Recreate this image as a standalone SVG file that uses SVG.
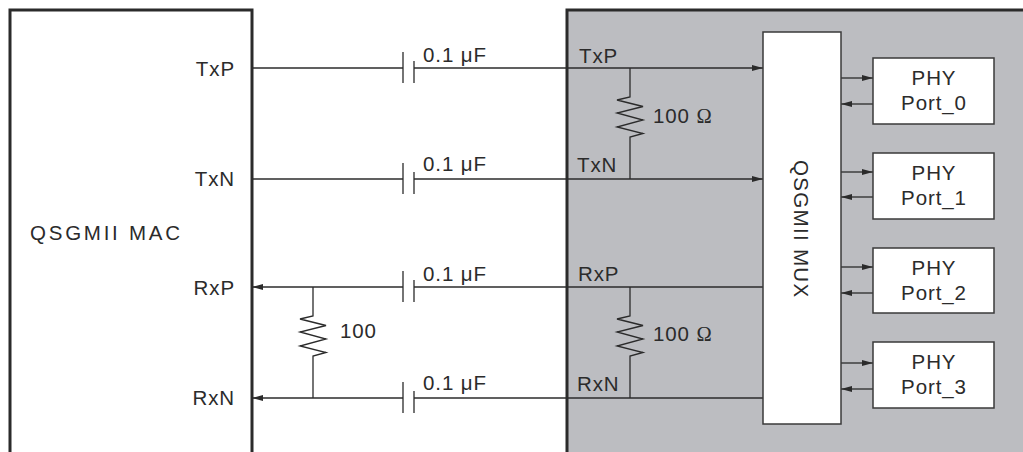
<svg xmlns="http://www.w3.org/2000/svg" width="1023" height="452" viewBox="0 0 1023 452">
<defs>
<marker id="ah" markerWidth="11" markerHeight="7" refX="11" refY="3.5" orient="auto" markerUnits="userSpaceOnUse"><path d="M0,0.5 L11,3.5 L0,6.5 z" fill="#2b2b2b"/></marker>
</defs>
<style>
.t{font-family:"Liberation Sans",Arial,sans-serif;font-size:20.5px;fill:#2b2b2b;letter-spacing:0.9px}
.c{text-anchor:middle}
.e{text-anchor:end}
.w{stroke:#2b2b2b;stroke-width:1.3;fill:none}
.blk{stroke:#2b2b2b;stroke-width:3}
.box{fill:#fff;stroke:#3a3a3a;stroke-width:1.5}
.om{font-family:"Liberation Serif","Times New Roman",serif}
</style>
<rect x="0" y="0" width="1023" height="452" fill="#fff"/>

<g id="phy-side">
<rect class="blk" x="567" y="10" width="480" height="470" fill="#bcbdc1"/>
</g>
<g id="qsgmii-mac">
<rect class="blk" x="10" y="10" width="242" height="470" fill="#fff"/>
<text class="t" x="30" y="240" textLength="151" lengthAdjust="spacing">QSGMII MAC</text>
<text class="t e" x="235" y="76">TxP</text>
<text class="t e" x="235" y="186">TxN</text>
<text class="t e" x="235" y="295">RxP</text>
<text class="t e" x="235" y="405">RxN</text>
</g>

<g id="connectors">
<path class="w" d="M252,68 H403" />
<path class="w" d="M414,68 H763" marker-end="url(#ah)"/>
<path class="w" d="M252,179 H403" />
<path class="w" d="M414,179 H763" marker-end="url(#ah)"/>
<path class="w" d="M763,287 H414" />
<path class="w" d="M403,287 H252" marker-end="url(#ah)"/>
<path class="w" d="M763,398 H414" />
<path class="w" d="M403,398 H252" marker-end="url(#ah)"/>

<path class="w" d="M841,78 H873" marker-end="url(#ah)"/>
<path class="w" d="M873,104 H841" marker-end="url(#ah)"/>
<path class="w" d="M841,172 H873" marker-end="url(#ah)"/>
<path class="w" d="M873,197 H841" marker-end="url(#ah)"/>
<path class="w" d="M841,267 H873" marker-end="url(#ah)"/>
<path class="w" d="M873,293 H841" marker-end="url(#ah)"/>
<path class="w" d="M841,363 H873" marker-end="url(#ah)"/>
<path class="w" d="M873,389 H841" marker-end="url(#ah)"/>
</g>

<g id="cap-txp">
<path class="w" d="M403,52 V83 M414,61 V83"/>
<text class="t" x="423" y="62">0.1 μF</text>
</g>
<g id="cap-txn">
<path class="w" d="M403,163 V194 M414,172 V194"/>
<text class="t" x="423" y="171">0.1 μF</text>
</g>
<g id="cap-rxp">
<path class="w" d="M403,271 V302 M414,280 V302"/>
<text class="t" x="423" y="281">0.1 μF</text>
</g>
<g id="cap-rxn">
<path class="w" d="M403,382 V413 M414,391 V413"/>
<text class="t" x="423" y="390">0.1 μF</text>
</g>

<g id="res-tx">
<path class="w" d="M630,68 V97 L617,100 L643,106.5 L617,113 L643,120 L617,127 L643,133.5 L630,137 V179"/>
<text class="t" x="653" y="123">100 <tspan class="om">Ω</tspan></text>
</g>
<g id="res-rx">
<path class="w" d="M630,287 V316 L617,319 L643,325.5 L617,332 L643,339 L617,346 L643,352.5 L630,356 V398"/>
<text class="t" x="653" y="341">100 <tspan class="om">Ω</tspan></text>
</g>
<g id="res-mac">
<path class="w" d="M313,287 V316 L300,319 L326,325.5 L300,332 L326,339 L300,346 L326,352.5 L313,356 V398"/>
<text class="t" x="340" y="338">100</text>
</g>

<g id="tx-rx-labels">
<text class="t" x="579" y="63">TxP</text>
<text class="t" x="577" y="172">TxN</text>
<text class="t" x="578" y="281">RxP</text>
<text class="t" x="577" y="391">RxN</text>
</g>

<g id="qsgmii-mux">
<rect class="box" x="763" y="32" width="78" height="392"/>
<text class="t c" transform="translate(794,229) rotate(90)" textLength="138" lengthAdjust="spacing">QSGMII MUX</text>
</g>

<g id="phy-port0">
<rect class="box" x="873" y="58" width="121" height="66"/>
<text class="t c" x="934" y="85">PHY</text>
<text class="t c" x="934" y="110">Port_0</text>
</g>
<g id="phy-port1">
<rect class="box" x="873" y="153" width="121" height="66"/>
<text class="t c" x="934" y="180">PHY</text>
<text class="t c" x="934" y="205">Port_1</text>
</g>
<g id="phy-port2">
<rect class="box" x="873" y="248" width="121" height="65"/>
<text class="t c" x="934" y="275">PHY</text>
<text class="t c" x="934" y="300">Port_2</text>
</g>
<g id="phy-port3">
<rect class="box" x="873" y="342" width="121" height="66"/>
<text class="t c" x="934" y="369">PHY</text>
<text class="t c" x="934" y="394">Port_3</text>
</g>
</svg>
